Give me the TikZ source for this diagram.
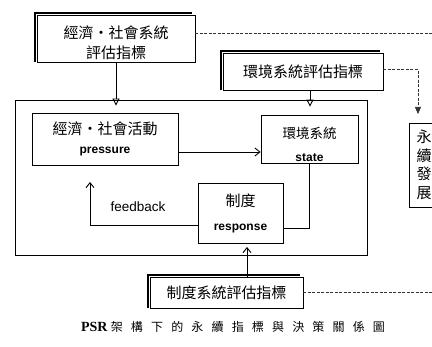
\documentclass[tikz,border=0pt]{standalone}
\usepackage{fontspec}
\setmainfont{Liberation Sans}
\newfontfamily\cjk{Noto Sans CJK TC}
\newfontfamily\cjkcap{Noto Sans CJK TC}[LetterSpace=68]
\newfontfamily\capserif{Liberation Serif}
\usetikzlibrary{arrows.meta}
\begin{document}
\begin{tikzpicture}[x=1pt,y=-1pt,
  box/.style={draw,line width=0.8pt,inner sep=0pt,align=center},
  evalbox/.style={draw,line width=0.8pt,inner sep=0pt,align=center,font=\cjk\fontsize{15}{20}\selectfont},
  raised/.style={line width=1.8pt},
  dashline/.style={line width=0.6pt,dash pattern=on 3pt off 1.5pt,black!80},
  arr/.style={line width=0.9pt,-{Triangle[open,length=7pt,width=7pt]}},
  barb/.style={line width=0.9pt,-{Straight Barb[length=5pt,width=8pt]}},
]
\useasboundingbox (0,0) rectangle (432,347);
\fill[white] (0,0) rectangle (432,347);
\clip (0,0) rectangle (432,347);

% outer frame
\node[draw,line width=0.8pt,minimum width=352pt,minimum height=155pt,inner sep=0pt] (outer) at (191,177.5) {};

% evaluation boxes
\node[evalbox,minimum width=158pt,minimum height=47pt] (econind) at (116,38.5) {};
\node[inner sep=0pt,align=center,font=\cjk\fontsize{15}{20}\selectfont] (econtext) at (116,43) {經濟・社會系統\\評估指標};
\draw[raised] ([xshift=-1.5pt]econind.south west) |- ([xshift=-3pt,yshift=1.5pt]econind.north east);

\node[evalbox,minimum width=160pt,minimum height=37pt] (envind) at (303,71.5) {環境系統評估指標};
\draw[raised] ([xshift=-1.5pt]envind.south west) |- ([xshift=-3pt,yshift=1.5pt]envind.north east);

\node[evalbox,minimum width=153pt,minimum height=31pt] (instind) at (226.5,292.5) {制度系統評估指標};
\draw[raised] ([xshift=-1.5pt]instind.south west) |- ([xshift=-3pt,yshift=1.5pt]instind.north east);

% inner boxes
\node[box,minimum width=146pt,minimum height=52pt,font=\fontsize{12}{19}\selectfont] (pressure) at (105,139)
  {{\cjk\fontsize{15}{19}\selectfont 經濟・社會活動}\\\textbf{pressure}};
\node[box,minimum width=97pt,minimum height=48pt] (state) at (309.5,139) {};
\node[inner sep=0pt,align=center,font=\fontsize{12}{23}\selectfont] (statetext) at (309.5,144.5)
  {{\cjk\fontsize{13.5}{23}\selectfont 環境系統}\\\textbf{state}};
\node[box,minimum width=85pt,minimum height=60pt,font=\fontsize{12}{24}\selectfont] (response) at (240.5,213)
  {{\cjk\fontsize{15}{24}\selectfont 制度}\\\textbf{response}};

% right (clipped) box
\node[box,minimum width=30pt,minimum height=84pt,font=\cjk\fontsize{15}{18.5}\selectfont] (decision) at (424,165)
  {永\\續\\發\\展};

% connectors
\draw[arr] (econind.south) -- ([yshift=-6pt]econind.south |- outer.north);
\draw[arr] ([xshift=7pt]envind.south) -- ([xshift=7pt,yshift=-7pt]envind.south |- outer.north);
\draw[barb] ([yshift=-13pt]pressure.east) -- ([yshift=-13pt]pressure.east -| state.west);
\draw[line width=0.9pt] (state.south) |- ([yshift=-15pt]response.east);
\coordinate (fbtip) at (90,182);
\draw[barb] ([yshift=-12pt]response.west) -| (fbtip);
\node[font=\fontsize{13.5}{16}\selectfont] (fblabel) at (138,207) {feedback};
\coordinate (rin) at (247,247);
\draw[barb] (instind.north -| rin) -- (rin);

% dashed links
\coordinate (d1) at (432,33.5);
\draw[dashline] ([yshift=5pt]econind.east) -- (d1);
\coordinate (dtip) at (418,114);
\draw[dashline,-{Triangle[length=7pt,width=6pt]}] ([yshift=2pt]envind.east) -| (dtip);
\coordinate (d3) at (432,292.5);
\draw[dashline] (instind.east) -- (d3);

% caption
\node[font=\fontsize{12}{14}\selectfont] (caption) at (233,327)
  {{\capserif\bfseries\fontsize{14}{16}\selectfont PSR} {\cjkcap 架構下的永續指標與決策關係圖}};
\end{tikzpicture}
\end{document}
